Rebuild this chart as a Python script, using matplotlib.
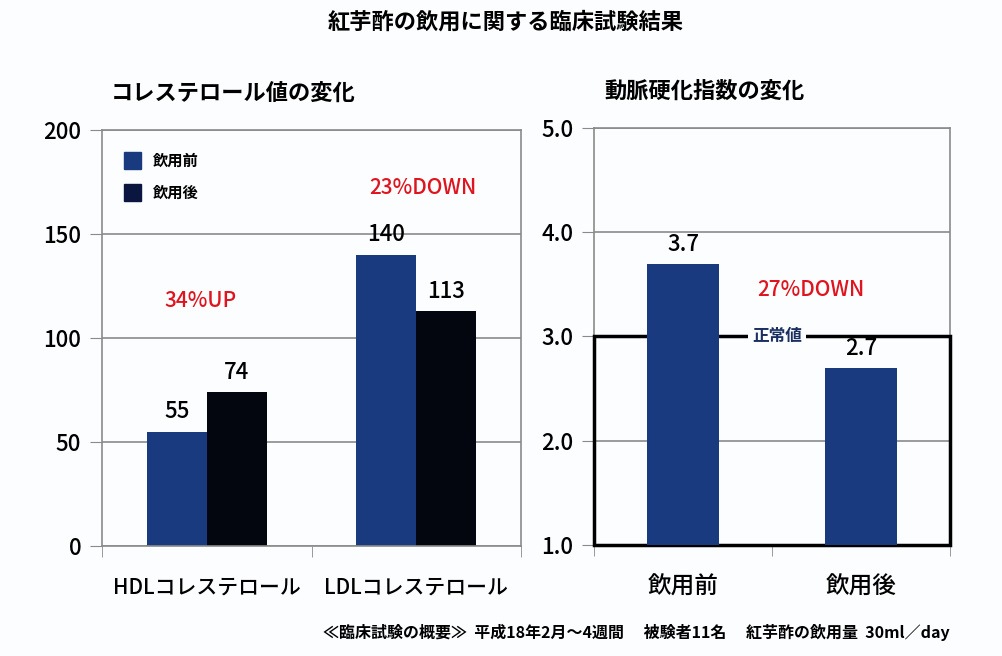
import matplotlib
matplotlib.use("Agg")
import matplotlib.pyplot as plt
from matplotlib.patches import Rectangle, Patch

plt.rcParams['font.family'] = ['Noto Sans CJK JP', 'DejaVu Sans']

# データ
chol_cats = ['HDLコレステロール', 'LDLコレステロール']
chol_before = [55, 140]
chol_after = [74, 113]
chol_notes = ['34%UP', '23%DOWN']

ai_cats = ['飲用前', '飲用後']
ai_values = [3.7, 2.7]
ai_note = '27%DOWN'
normal_upper = 3.0

title = '紅芋酢の飲用に関する臨床試験結果'
footnote = '≪臨床試験の概要≫  平成18年2月～4週間　 被験者11名　 紅芋酢の飲用量  30ml／day'

blue = '#1a3a80'
black = '#03060f'
red = '#e0141e'
grid = '#8a8a8a'

fig = plt.figure(figsize=(10.02, 6.56), dpi=100)
fig.patch.set_facecolor('#fbfdff')

def style_axes(ax):
    ax.set_facecolor('#fbfdff')
    for s in ax.spines.values():
        s.set_color(grid)
        s.set_linewidth(1.2)
    ax.yaxis.grid(True, color=grid, linewidth=1.2)
    ax.set_axisbelow(True)
    ax.tick_params(axis='y', direction='out', length=9, color=grid, labelsize=16, pad=6)
    ax.set_xlim(-0.5, 1.5)
    ax.set_xticks([0, 1])
    ax.set_xticks([-0.5, 0.5, 1.5], minor=True)
    ax.tick_params(axis='x', which='major', length=0, pad=22)
    ax.tick_params(axis='x', which='minor', direction='out', length=8, color=grid)
    for lab in ax.get_yticklabels():
        lab.set_fontweight('medium')

# 左: コレステロール
ax1 = fig.add_axes([0.1018, 0.1677, 0.4182, 0.6341])
w = 0.287
x = [0, 1]
ax1.bar([i - w / 2 for i in x], chol_before, width=w, color=blue, zorder=2)
ax1.bar([i + w / 2 for i in x], chol_after, width=w, color=black, zorder=2)
ax1.set_ylim(0, 200)
ax1.set_yticks([0, 50, 100, 150, 200])
ax1.set_xticks([0, 1])
ax1.set_xticklabels(chol_cats, fontsize=15, fontweight='medium')
style_axes(ax1)
for i in x:
    ax1.text(i - w / 2, chol_before[i] + 4, str(chol_before[i]), ha='center', va='bottom',
             fontsize=16, fontweight='medium')
    ax1.text(i + w / 2, chol_after[i] + 4, str(chol_after[i]), ha='center', va='bottom',
             fontsize=16, fontweight='medium')
ax1.text(-0.03, 118, chol_notes[0], color=red, ha='center', va='center', fontsize=15, fontweight='medium')
ax1.text(1.03, 172, chol_notes[1], color=red, ha='center', va='center', fontsize=15, fontweight='medium')
handles = [Patch(color=blue), Patch(color='#0a1640')]
ax1.legend(handles, ai_cats, loc='upper left', bbox_to_anchor=(0.02, 0.98), frameon=False,
           prop={'size': 11, 'weight': 'bold'}, handlelength=1.1, handleheight=1.3,
           labelspacing=1.0, handletextpad=0.8)
ax1.set_title('コレステロール値の変化', loc='left', x=0.02, pad=22, fontsize=16, fontweight='bold')

# 右: 動脈硬化指数
ax2 = fig.add_axes([0.5928, 0.1692, 0.3553, 0.6357])
ax2.bar(x, ai_values, width=0.4, color=blue, zorder=3)
ax2.set_ylim(1.0, 5.0)
ax2.set_yticks([1.0, 2.0, 3.0, 4.0, 5.0])
ax2.set_yticklabels([f'{v:.1f}' for v in [1.0, 2.0, 3.0, 4.0, 5.0]])
ax2.set_xticks([0, 1])
ax2.set_xticklabels(ai_cats, fontsize=17, fontweight='medium')
style_axes(ax2)
for i in x:
    ax2.text(i, ai_values[i] + 0.07, f'{ai_values[i]:.1f}', ha='center', va='bottom',
             fontsize=16, fontweight='medium')
ax2.text(0.72, 3.45, ai_note, color=red, ha='center', va='center', fontsize=15, fontweight='medium')
ax2.add_patch(Rectangle((0, 1.0), 1, normal_upper - 1.0, transform=ax2.get_yaxis_transform(),
                        fill=False, edgecolor='black', linewidth=2.5, zorder=2.7, clip_on=False))
ax2.text(0.514, normal_upper, '正常値', transform=ax2.get_yaxis_transform(), ha='center', va='center',
         fontsize=12, fontweight='bold', color='#1a3060', zorder=2.8,
         bbox=dict(facecolor='#fbfdff', edgecolor='none', pad=3))
ax2.set_title('動脈硬化指数の変化', loc='left', x=0.03, pad=22, fontsize=16, fontweight='bold')

fig.text(0.505, 0.967, title, ha='center', va='center', fontsize=16, fontweight='bold')
fig.text(0.948, 0.036, footnote, ha='right', va='center', fontsize=11.5, fontweight='bold')

fig.savefig('out.png', dpi=100, facecolor=fig.get_facecolor())
